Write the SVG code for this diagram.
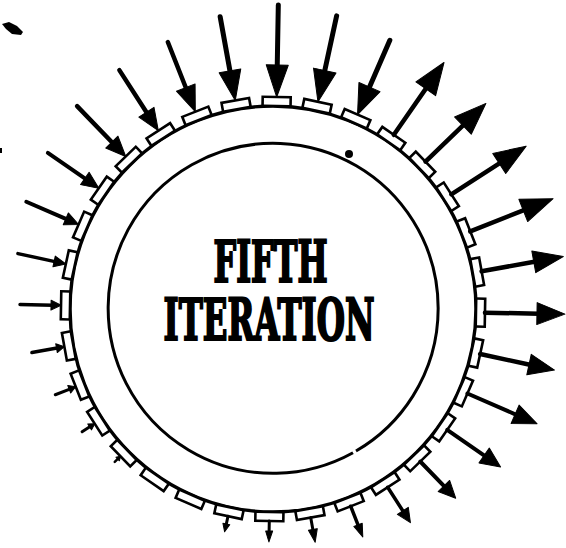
<svg xmlns="http://www.w3.org/2000/svg" width="566" height="548" viewBox="0 0 566 548">
<style>
.ring{fill:none;stroke:#000}
.tab{fill:#fff;stroke:#000;stroke-width:2.6}
.sh{stroke:#000;stroke-linecap:round;fill:none}
.hd{fill:#000;stroke:#000;stroke-width:1;stroke-linejoin:round}
.lbl{font-family:'DejaVu Serif Condensed','DejaVu Serif','Liberation Serif',serif;font-weight:bold;font-size:57px;fill:#000;stroke:#000;stroke-width:2.2;stroke-linejoin:miter}
</style>
<defs>
<rect id="tabshape" class="tab" x="-14" y="-212" width="28" height="9"/>
</defs>
<rect width="566" height="548" fill="#fff"/>
<g id="ring">
<circle class="ring" cx="273" cy="309" r="203" stroke-width="3.4"/>
<path class="ring" stroke-width="3" d="M 353.0 452.7 A 165 165 0 1 1 356.0 451.0"/>
</g>
<g id="tabs">
<use href="#tabshape" transform="translate(273,309) rotate(1)"/>
<use href="#tabshape" transform="translate(273,309) rotate(-10.25)"/>
<use href="#tabshape" transform="translate(273,309) rotate(-21.5)"/>
<use href="#tabshape" transform="translate(273,309) rotate(-32.75)"/>
<use href="#tabshape" transform="translate(273,309) rotate(-44)"/>
<use href="#tabshape" transform="translate(273,309) rotate(-55.25)"/>
<use href="#tabshape" transform="translate(273,309) rotate(-66.5)"/>
<use href="#tabshape" transform="translate(273,309) rotate(-77.75)"/>
<use href="#tabshape" transform="translate(273,309) rotate(-89)"/>
<use href="#tabshape" transform="translate(273,309) rotate(-100.25)"/>
<use href="#tabshape" transform="translate(273,309) rotate(-111.5)"/>
<use href="#tabshape" transform="translate(273,309) rotate(-122.75)"/>
<use href="#tabshape" transform="translate(273,309) rotate(-134)"/>
<use href="#tabshape" transform="translate(273,309) rotate(-145.25)"/>
<use href="#tabshape" transform="translate(273,309) rotate(-156.5)"/>
<use href="#tabshape" transform="translate(273,309) rotate(-167.75)"/>
<use href="#tabshape" transform="translate(273,309) rotate(-179)"/>
<use href="#tabshape" transform="translate(273,309) rotate(-190.25)"/>
<use href="#tabshape" transform="translate(273,309) rotate(-201.5)"/>
<use href="#tabshape" transform="translate(273,309) rotate(-212.75)"/>
<use href="#tabshape" transform="translate(273,309) rotate(-224)"/>
<use href="#tabshape" transform="translate(273,309) rotate(-235.25)"/>
<use href="#tabshape" transform="translate(273,309) rotate(-246.5)"/>
<use href="#tabshape" transform="translate(273,309) rotate(-257.75)"/>
<use href="#tabshape" transform="translate(273,309) rotate(-269)"/>
<use href="#tabshape" transform="translate(273,309) rotate(-280.25)"/>
<use href="#tabshape" transform="translate(273,309) rotate(-291.5)"/>
<use href="#tabshape" transform="translate(273,309) rotate(-302.75)"/>
<use href="#tabshape" transform="translate(273,309) rotate(-314)"/>
<use href="#tabshape" transform="translate(273,309) rotate(-325.25)"/>
<use href="#tabshape" transform="translate(273,309) rotate(-336.5)"/>
<use href="#tabshape" transform="translate(273,309) rotate(-347.75)"/>
</g>
<g id="connectors">
<!-- incoming -->
<g transform="translate(273,309) rotate(1)"><line class="sh" stroke-width="5" x1="0" y1="-304" x2="0" y2="-240"/><polygon class="hd" points="0,-212 -11,-244 11,-244"/></g>
<g transform="translate(273,309) rotate(-10.25)"><line class="sh" stroke-width="5" x1="0" y1="-297" x2="0" y2="-238"/><polygon class="hd" points="0,-212 -11,-242 11,-242"/></g>
<g transform="translate(273,309) rotate(-21.5)"><line class="sh" stroke-width="4.5" x1="0" y1="-287" x2="0" y2="-234"/><polygon class="hd" points="0,-212 -10,-238 10,-238"/></g>
<g transform="translate(273,309) rotate(-32.75)"><line class="sh" stroke-width="4.5" x1="0" y1="-284" x2="0" y2="-230"/><polygon class="hd" points="0,-212 -9,-234 9,-234"/></g>
<g transform="translate(273,309) rotate(-44)"><line class="sh" stroke-width="4.5" x1="0" y1="-282" x2="0" y2="-228"/><polygon class="hd" points="0,-212 -8.5,-232 8.5,-232"/></g>
<g transform="translate(273,309) rotate(-55.25)"><line class="sh" stroke-width="4" x1="0" y1="-274" x2="0" y2="-226"/><polygon class="hd" points="0,-212 -7.5,-229 7.5,-229"/></g>
<g transform="translate(273,309) rotate(-66.5)"><line class="sh" stroke-width="4" x1="0" y1="-269" x2="0" y2="-224"/><polygon class="hd" points="0,-212 -6.5,-226 6.5,-226"/></g>
<g transform="translate(273,309) rotate(-77.75)"><line class="sh" stroke-width="3.5" x1="0" y1="-261" x2="0" y2="-222"/><polygon class="hd" points="0,-212 -5.5,-224 5.5,-224"/></g>
<g transform="translate(273,309) rotate(-89)"><line class="sh" stroke-width="3.5" x1="0" y1="-253" x2="0" y2="-220"/><polygon class="hd" points="0,-212 -5,-222 5,-222"/></g>
<g transform="translate(273,309) rotate(-100.25)"><line class="sh" stroke-width="3.5" x1="0" y1="-245" x2="0" y2="-218"/><polygon class="hd" points="0,-212 -4.5,-220 4.5,-220"/></g>
<g transform="translate(273,309) rotate(-111.5)"><line class="sh" stroke-width="3" x1="0" y1="-234" x2="0" y2="-217"/><polygon class="hd" points="0,-212 -4,-219 4,-219"/></g>
<g transform="translate(273,309) rotate(-122.75)"><line class="sh" stroke-width="3" x1="0" y1="-227" x2="0" y2="-216"/><polygon class="hd" points="0,-212 -3.5,-218 3.5,-218"/></g>
<g transform="translate(273,309) rotate(-134)"><line class="sh" stroke-width="2.5" x1="0" y1="-220" x2="0" y2="-214"/><polygon class="hd" points="0,-212 -2.5,-216 2.5,-216"/></g>
<g transform="translate(273,309) rotate(-336.5)"><line class="sh" stroke-width="5" x1="0" y1="-293" x2="0" y2="-238"/><polygon class="hd" points="0,-212 -11.5,-242 11.5,-242"/></g>
<g transform="translate(273,309) rotate(-347.75)"><line class="sh" stroke-width="5" x1="0" y1="-300" x2="0" y2="-240"/><polygon class="hd" points="0,-212 -11.5,-244 11.5,-244"/></g>
<!-- outgoing -->
<g transform="translate(273,309) rotate(-167.75)"><line class="sh" stroke-width="3" x1="0" y1="-212" x2="0" y2="-221"/><polygon class="hd" points="0,-228 -3.5,-220 3.5,-220"/></g>
<g transform="translate(273,309) rotate(-179)"><line class="sh" stroke-width="3" x1="0" y1="-212" x2="0" y2="-223"/><polygon class="hd" points="0,-233 -3.5,-222 3.5,-222"/></g>
<g transform="translate(273,309) rotate(-190.25)"><line class="sh" stroke-width="3" x1="0" y1="-212" x2="0" y2="-225"/><polygon class="hd" points="0,-237 -4.5,-224 4.5,-224"/></g>
<g transform="translate(273,309) rotate(-201.5)"><line class="sh" stroke-width="3.5" x1="0" y1="-212" x2="0" y2="-233"/><polygon class="hd" points="0,-245 -4.5,-232 4.5,-232"/></g>
<g transform="translate(273,309) rotate(-212.75)"><line class="sh" stroke-width="3.5" x1="0" y1="-212" x2="0" y2="-242"/><polygon class="hd" points="0,-254 -6.5,-240 6.5,-240"/></g>
<g transform="translate(273,309) rotate(-224)"><line class="sh" stroke-width="4" x1="0" y1="-212" x2="0" y2="-248"/><polygon class="hd" points="0,-263 -8,-246 8,-246"/></g>
<g transform="translate(273,309) rotate(-235.25)"><line class="sh" stroke-width="4" x1="0" y1="-212" x2="0" y2="-259"/><polygon class="hd" points="0,-277 -9,-257 9,-257"/></g>
<g transform="translate(273,309) rotate(-246.5)"><line class="sh" stroke-width="4" x1="0" y1="-212" x2="0" y2="-266"/><polygon class="hd" points="0,-288 -10,-264 10,-264"/></g>
<g transform="translate(273,309) rotate(-257.75)"><line class="sh" stroke-width="4.5" x1="0" y1="-212" x2="0" y2="-264"/><polygon class="hd" points="0,-288 -10.5,-262 10.5,-262"/></g>
<g transform="translate(273,309) rotate(-269)"><line class="sh" stroke-width="4.5" x1="0" y1="-212" x2="0" y2="-266"/><polygon class="hd" points="0,-292 -11,-264 11,-264"/></g>
<g transform="translate(273,309) rotate(-280.25)"><line class="sh" stroke-width="4.5" x1="0" y1="-212" x2="0" y2="-267"/><polygon class="hd" points="0,-295 -11,-265 11,-265"/></g>
<g transform="translate(273,309) rotate(-291.5)"><line class="sh" stroke-width="4.5" x1="0" y1="-212" x2="0" y2="-271"/><polygon class="hd" points="0,-301 -12,-269 12,-269"/></g>
<g transform="translate(273,309) rotate(-302.75)"><line class="sh" stroke-width="4.5" x1="0" y1="-212" x2="0" y2="-271"/><polygon class="hd" points="0,-301 -12,-269 12,-269"/></g>
<g transform="translate(273,309) rotate(-314)"><line class="sh" stroke-width="4.5" x1="0" y1="-212" x2="0" y2="-266"/><polygon class="hd" points="0,-296 -12,-264 12,-264"/></g>
<g transform="translate(273,309) rotate(-325.25)"><line class="sh" stroke-width="4.5" x1="0" y1="-212" x2="0" y2="-270"/><polygon class="hd" points="0,-300 -12,-268 12,-268"/></g>
</g>
<g id="marks">
<path d="M2,24 L9,22 L17,26 L23,32 L21,35 L12,34 L6,29 Z" fill="#000"/>
<rect x="0" y="148" width="2" height="5" fill="#000"/>
<circle cx="349" cy="154" r="4" fill="#000"/>
</g>
<g id="label">
<text class="lbl" x="270.5" y="282" text-anchor="middle" textLength="114" lengthAdjust="spacingAndGlyphs">FIFTH</text>
<text class="lbl" x="269" y="340" text-anchor="middle" textLength="211" lengthAdjust="spacingAndGlyphs">ITERATION</text>
</g>
</svg>
